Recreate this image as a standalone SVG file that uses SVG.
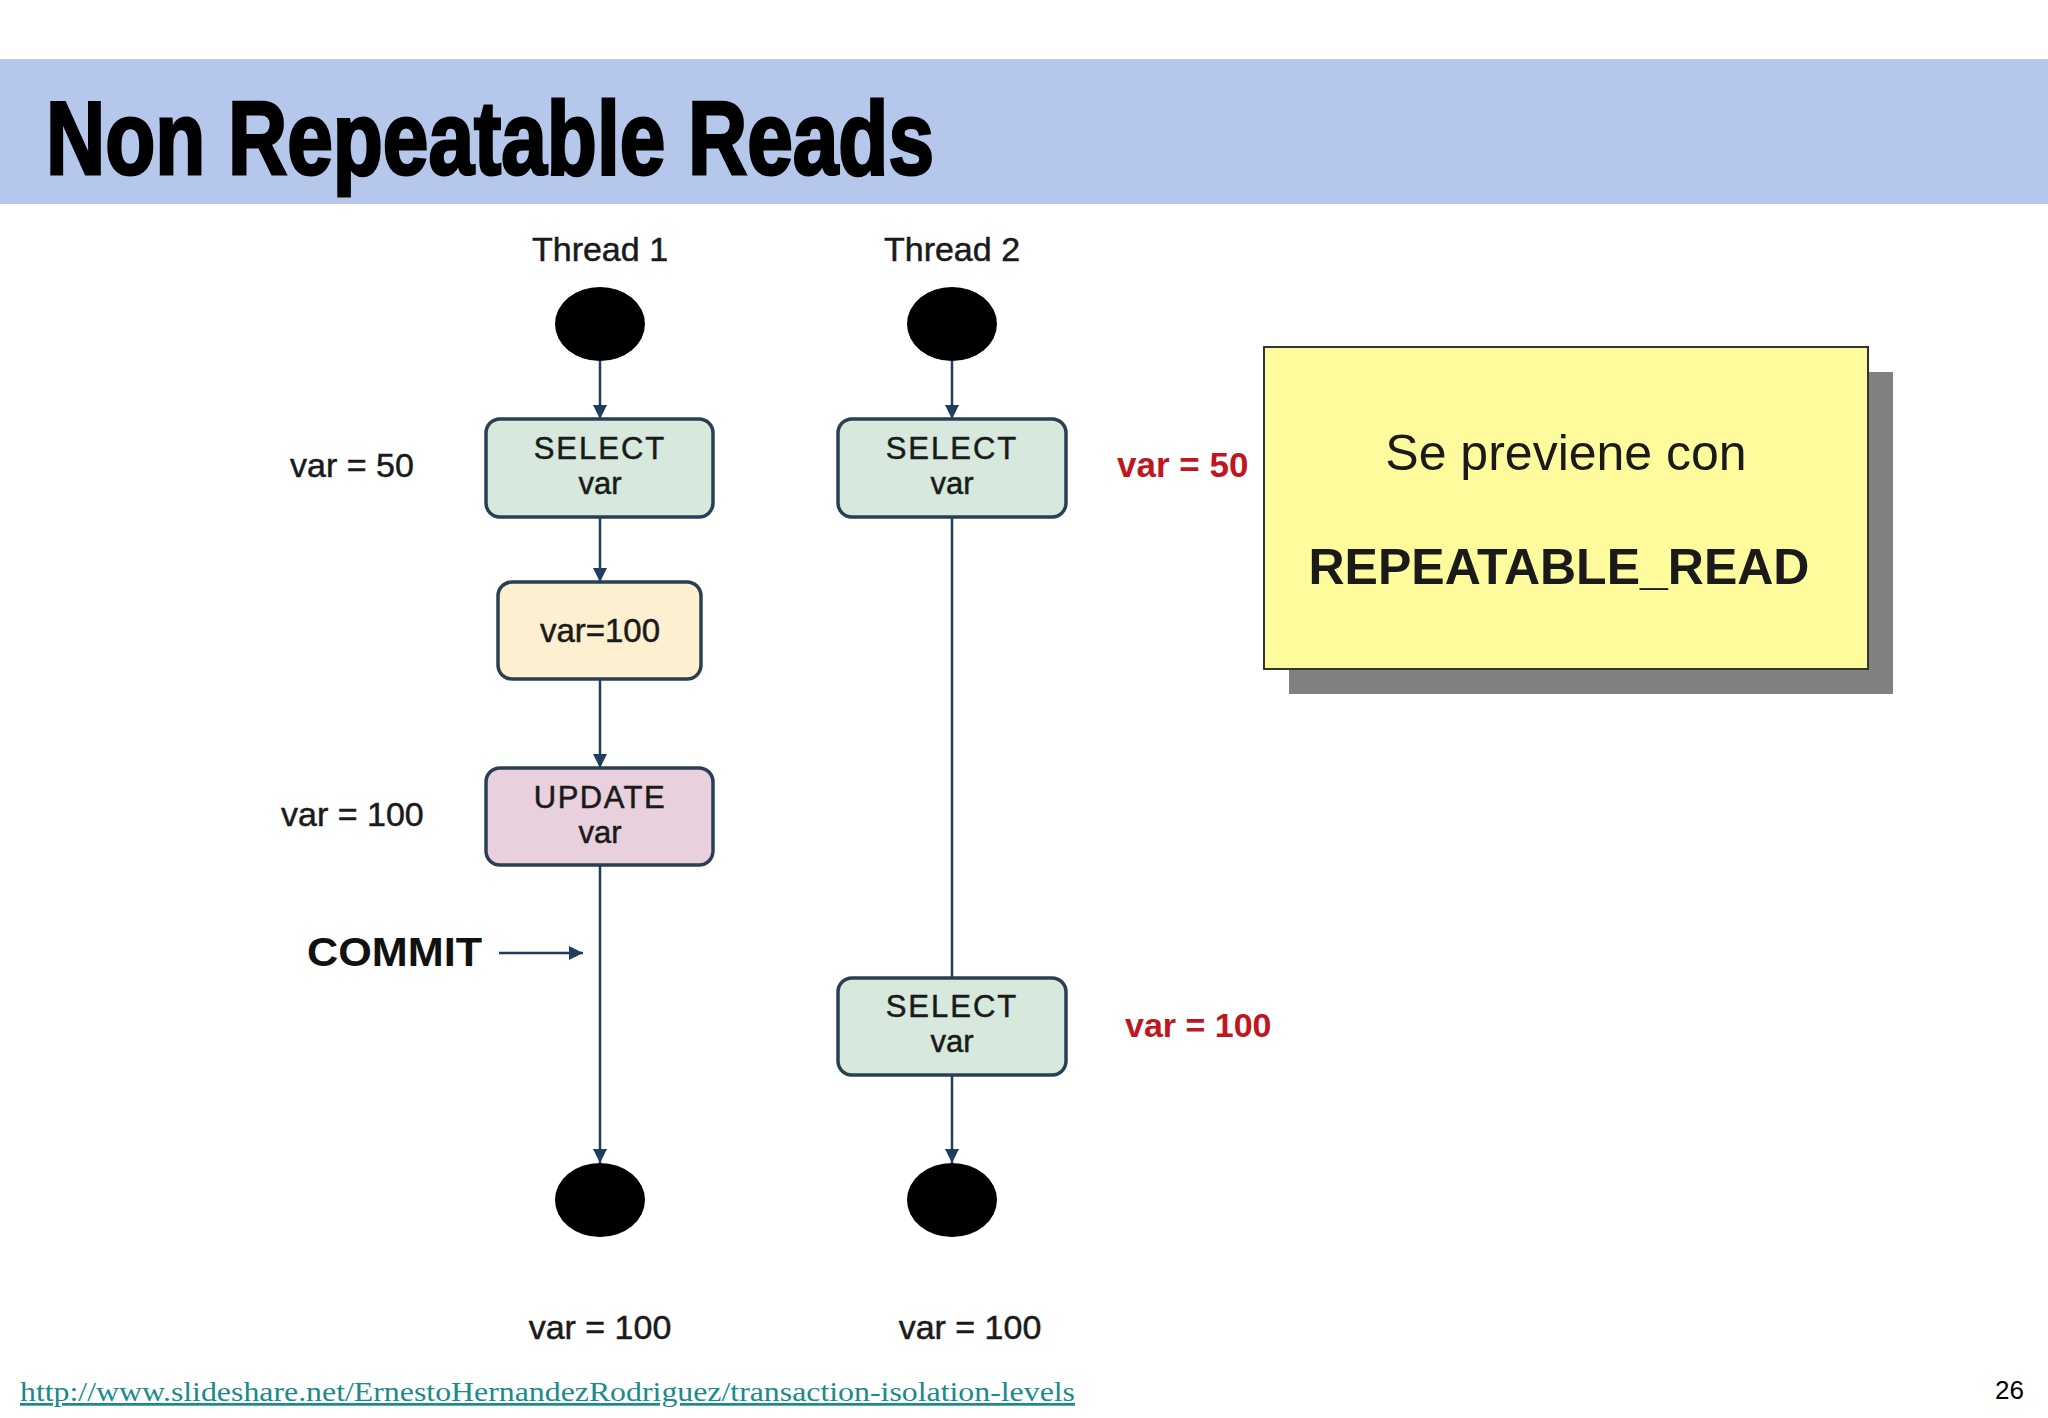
<svg xmlns="http://www.w3.org/2000/svg" width="2048" height="1418" viewBox="0 0 2048 1418">
<style>
.lbl{font-family:"Liberation Sans",Arial,sans-serif;font-size:34px;fill:#1a1a1a;stroke:#1a1a1a;stroke-width:0.5}
.red{font-family:"Liberation Sans",Arial,sans-serif;font-size:34px;font-weight:bold;fill:#c0161e}
.box{stroke:#2b3f52;stroke-width:3.5}
.btxt{font-family:"Liberation Sans",Arial,sans-serif;font-size:31px;fill:#1a1a1a;text-anchor:middle;stroke:#1a1a1a;stroke-width:0.5}
.conn{stroke:#1f3d5c;stroke-width:2.5;fill:none}
</style>
<defs>
<marker id="arrb" viewBox="0 0 10 10" refX="10" refY="5" markerWidth="16" markerHeight="14" markerUnits="userSpaceOnUse" orient="auto">
<path d="M0,0 L10,5 L0,10 z" fill="#1f3d5c"/>
</marker>
</defs>
<rect width="2048" height="1418" fill="#ffffff"/>
<g id="title">
<rect x="0" y="59" width="2048" height="145" fill="#b6c7ec"/>
<text x="46" y="174" font-family="Liberation Sans,Arial,sans-serif" font-size="104" font-weight="bold" textLength="888" lengthAdjust="spacingAndGlyphs" fill="#000" stroke="#000" stroke-width="3">Non Repeatable Reads</text>
</g>
<g id="connectors">
<line class="conn" x1="600" y1="361" x2="600" y2="419" marker-end="url(#arrb)"/>
<line class="conn" x1="952" y1="361" x2="952" y2="419" marker-end="url(#arrb)"/>
<line class="conn" x1="600" y1="517" x2="600" y2="582" marker-end="url(#arrb)"/>
<line class="conn" x1="600" y1="679" x2="600" y2="768" marker-end="url(#arrb)"/>
<line class="conn" x1="600" y1="865" x2="600" y2="1163" marker-end="url(#arrb)"/>
<line class="conn" x1="952" y1="517" x2="952" y2="978"/>
<line class="conn" x1="952" y1="1075" x2="952" y2="1163" marker-end="url(#arrb)"/>
<line class="conn" x1="499" y1="953" x2="583" y2="953" marker-end="url(#arrb)"/>
</g>
<g id="thread1-label"><text class="btxt" x="600" y="261" style="font-size:34px">Thread 1</text></g>
<g id="thread2-label"><text class="btxt" x="952" y="261" style="font-size:34px">Thread 2</text></g>
<g id="start1"><ellipse cx="600" cy="324" rx="45" ry="37" fill="#000"/></g>
<g id="start2"><ellipse cx="952" cy="324" rx="45" ry="37" fill="#000"/></g>
<g id="select1">
<rect class="box" x="486" y="419" width="227" height="98" rx="14" fill="#d6e9dc"/>
<text class="btxt" x="600" y="459" letter-spacing="2">SELECT</text>
<text class="btxt" x="600" y="494">var</text>
</g>
<g id="select2">
<rect class="box" x="838" y="419" width="228" height="98" rx="14" fill="#d6e9dc"/>
<text class="btxt" x="952" y="459" letter-spacing="2">SELECT</text>
<text class="btxt" x="952" y="494">var</text>
</g>
<g id="assign">
<rect class="box" x="498" y="582" width="203" height="97" rx="14" fill="#fcf0d0"/>
<text class="btxt" x="600" y="642" style="font-size:33px">var=100</text>
</g>
<g id="update">
<rect class="box" x="486" y="768" width="227" height="97" rx="14" fill="#e8d0dc"/>
<text class="btxt" x="600" y="808" letter-spacing="1.5">UPDATE</text>
<text class="btxt" x="600" y="843">var</text>
</g>
<g id="select3">
<rect class="box" x="838" y="978" width="228" height="97" rx="14" fill="#d6e9dc"/>
<text class="btxt" x="952" y="1017" letter-spacing="2">SELECT</text>
<text class="btxt" x="952" y="1052">var</text>
</g>
<g id="end1"><ellipse cx="600" cy="1200" rx="45" ry="37" fill="#000"/></g>
<g id="end2"><ellipse cx="952" cy="1200" rx="45" ry="37" fill="#000"/></g>
<g id="labels">
<text class="lbl" x="290" y="477">var = 50</text>
<text class="lbl" x="281" y="826">var = 100</text>
<text x="307" y="966" font-family="Liberation Sans,Arial,sans-serif" font-size="40" font-weight="bold" fill="#111" textLength="175" lengthAdjust="spacingAndGlyphs">COMMIT</text>
<text class="red" x="1117" y="477" style="font-size:35px">var = 50</text>
<text class="red" x="1125" y="1037">var = 100</text>
<text class="lbl" x="600" y="1339" text-anchor="middle">var = 100</text>
<text class="lbl" x="970" y="1339" text-anchor="middle">var = 100</text>
</g>
<g id="note">
<rect x="1289" y="372" width="604" height="322" fill="#808080"/>
<rect x="1264" y="347" width="604" height="322" fill="#fdfb9c" stroke="#333" stroke-width="2"/>
<text x="1566" y="470" text-anchor="middle" font-family="Liberation Sans,Arial,sans-serif" font-size="50" fill="#1a1a1a">Se previene con</text>
<text x="1559" y="584" text-anchor="middle" font-family="Liberation Sans,Arial,sans-serif" font-size="50" font-weight="bold" fill="#1a1a1a">REPEATABLE_READ</text>
</g>
<g id="footer">
<text x="20" y="1401" font-family="Liberation Serif,Times New Roman,serif" font-size="27" fill="#1a8a8a" text-decoration="underline" textLength="1055" lengthAdjust="spacingAndGlyphs">http://www.slideshare.net/ErnestoHernandezRodriguez/transaction-isolation-levels</text>
<text x="2024" y="1399" text-anchor="end" font-family="Liberation Sans,Arial,sans-serif" font-size="26" fill="#000">26</text>
</g>
</svg>
